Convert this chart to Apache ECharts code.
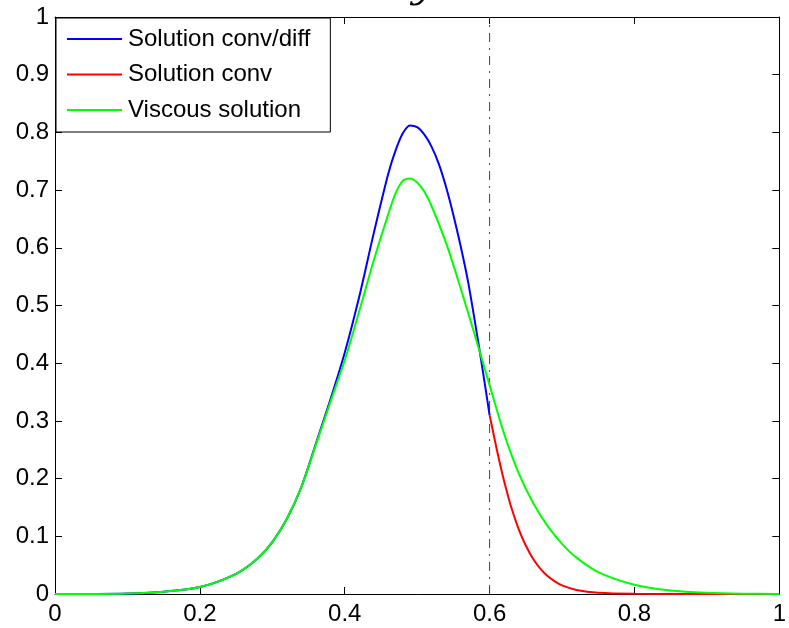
<!DOCTYPE html>
<html>
<head>
<meta charset="utf-8">
<script src="https://cdn.jsdelivr.net/npm/echarts@6/dist/echarts.min.js"></script>
<style>html,body{margin:0;padding:0;background:#fff;}#c{width:789px;height:628px;}</style>
</head>
<body>
<div id="c"></div>
<script>
// ---- data ----
const seriesNames = ['Solution conv/diff', 'Solution conv', 'Viscous solution'];
const xTickLabels = ['0', '0.2', '0.4', '0.6', '0.8', '1'];
const yTickLabels = ['0', '0.1', '0.2', '0.3', '0.4', '0.5', '0.6', '0.7', '0.8', '0.9', '1'];

const convDiffX = [0, 0.05, 0.1, 0.15, 0.2, 0.25, 0.28, 0.3, 0.32, 0.34, 0.36, 0.38, 0.4, 0.42, 0.44, 0.46, 0.47, 0.48, 0.49, 0.5, 0.51, 0.52, 0.53, 0.54, 0.55, 0.56, 0.57, 0.58, 0.59, 0.6];
const convDiffY = [0, 0.0001, 0.0008, 0.004, 0.012, 0.035, 0.062, 0.09, 0.13, 0.185, 0.26, 0.336, 0.418, 0.515, 0.625, 0.728, 0.768, 0.798, 0.812, 0.809, 0.796, 0.775, 0.745, 0.705, 0.657, 0.603, 0.543, 0.47, 0.392, 0.31];

const convX = [0.6, 0.605, 0.61, 0.615, 0.62, 0.625, 0.63, 0.64, 0.65, 0.66, 0.67, 0.68, 0.69, 0.7, 0.72, 0.75, 0.8, 0.9, 1];
const convY = [0.31, 0.28, 0.25, 0.222, 0.196, 0.172, 0.15, 0.113, 0.084, 0.061, 0.044, 0.031, 0.022, 0.015, 0.007, 0.002, 0.0003, 0, 0];

const viscX = [0, 0.05, 0.1, 0.15, 0.2, 0.25, 0.28, 0.3, 0.32, 0.34, 0.36, 0.38, 0.4, 0.42, 0.44, 0.46, 0.47, 0.48, 0.49, 0.5, 0.51, 0.52, 0.54, 0.56, 0.58, 0.6, 0.62, 0.64, 0.66, 0.68, 0.7, 0.72, 0.75, 0.8, 0.85, 0.9, 0.95, 1];
const viscY = [0, 0.0001, 0.0008, 0.004, 0.012, 0.035, 0.062, 0.09, 0.13, 0.185, 0.258, 0.332, 0.405, 0.49, 0.578, 0.658, 0.694, 0.716, 0.72, 0.713, 0.697, 0.672, 0.608, 0.53, 0.447, 0.362, 0.278, 0.21, 0.158, 0.118, 0.087, 0.063, 0.038, 0.016, 0.006, 0.002, 0.0005, 0.0001];

const dividerX = 0.6;
const titleText = 'y';

const zip = (xs, ys) => xs.map((x, i) => [x, ys[i]]);
const FONT = '"Liberation Sans", Arial, sans-serif';

const chart = echarts.init(document.getElementById('c'), null, {renderer: 'canvas'});
const axisCommon = {
  type: 'value', min: 0, max: 1,
  axisLine: {show: true, onZero: false, lineStyle: {color: '#000', width: 1}},
  axisTick: {show: true, inside: true, length: 7, lineStyle: {color: '#000', width: 1}},
  splitLine: {show: false}
};
chart.setOption({
  backgroundColor: '#fff',
  animation: false,
  graphic: [{
    type: 'text', x: 422, y: -13,
    style: {text: titleText, font: 'italic 38px "DejaVu Serif", serif', fill: '#000', textAlign: 'center', textVerticalAlign: 'middle'}
  }],
  grid: {left: 55, right: 3, top: 17, bottom: 34, containLabel: false},
  legend: {
    data: seriesNames,
    orient: 'vertical', left: 56, top: 18,
    backgroundColor: '#fff', borderColor: '#000', borderWidth: 1, borderRadius: 0,
    padding: [9, 20, 10, 11], itemGap: 11.5,
    itemWidth: 55, itemHeight: 2, icon: 'rect',
    textStyle: {fontFamily: FONT, fontSize: 24, color: '#000', padding: [0, 0, 0, 1]}
  },
  xAxis: [
    Object.assign({}, axisCommon, {position: 'bottom', interval: 0.2,
      axisLabel: {fontFamily: FONT, fontSize: 24, color: '#000', margin: 8,
        formatter: v => xTickLabels[Math.round(v / 0.2)]}}),
    Object.assign({}, axisCommon, {position: 'top', interval: 0.2, axisLabel: {show: false}})
  ],
  yAxis: [
    Object.assign({}, axisCommon, {position: 'left', interval: 0.1,
      axisLabel: {fontFamily: FONT, fontSize: 24, color: '#000', margin: 6,
        formatter: v => yTickLabels[Math.round(v / 0.1)]}}),
    Object.assign({}, axisCommon, {position: 'right', interval: 0.1, axisLabel: {show: false}})
  ],
  series: [
    {
      name: 'divider', type: 'line', data: [[dividerX, 0], [dividerX, 1]], symbol: 'none', silent: true,
      lineStyle: {color: '#444', width: 1, type: [9, 6, 2, 6]}, z: 1
    },
    {name: seriesNames[0], type: 'line', data: zip(convDiffX, convDiffY), symbol: 'none', smooth: 0.3,
      color: '#0000ff', lineStyle: {width: 2, color: '#0000ff'}, z: 3},
    {name: seriesNames[1], type: 'line', data: zip(convX, convY), symbol: 'none', smooth: 0.3,
      color: '#ff0000', lineStyle: {width: 2, color: '#ff0000'}, z: 3},
    {name: seriesNames[2], type: 'line', data: zip(viscX, viscY), symbol: 'none', smooth: 0.3,
      color: '#00ff00', lineStyle: {width: 2, color: '#00ff00'}, z: 4}
  ]
});
</script>
</body>
</html>
